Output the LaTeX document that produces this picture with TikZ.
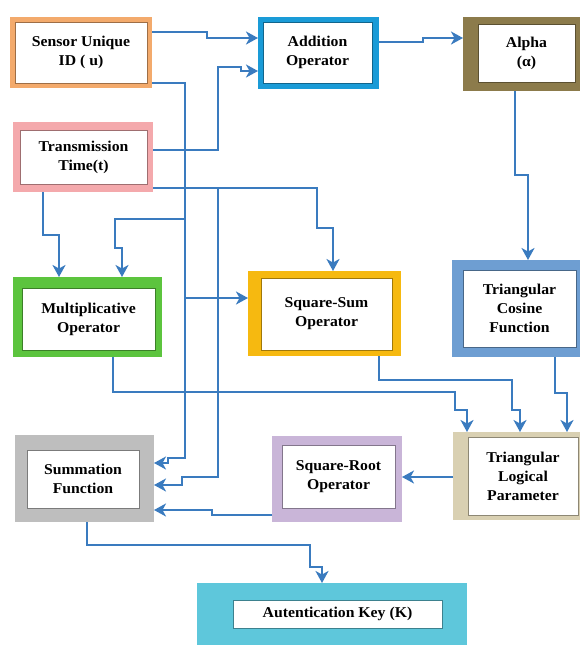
\documentclass[tikz,border=0pt]{standalone}
\usepackage{fontspec}
\setmainfont{Liberation Serif}[FakeStretch=1.05]
\usetikzlibrary{arrows.meta}

\definecolor{linkblue}{HTML}{3A7BBF}
\definecolor{csensor}{HTML}{F3AA6C}
\definecolor{cadd}{HTML}{1A9BD7}
\definecolor{calpha}{HTML}{8C7B4B}
\definecolor{ctrans}{HTML}{F4A9AC}
\definecolor{cmult}{HTML}{5CC43E}
\definecolor{cssum}{HTML}{F6B910}
\definecolor{ctcos}{HTML}{6E9ED2}
\definecolor{ctlp}{HTML}{D9D0B2}
\definecolor{csroot}{HTML}{C9B5D8}
\definecolor{csumm}{HTML}{BEBEBE}
\definecolor{ckey}{HTML}{5EC7DB}

\tikzset{
	frame/.style={fill=#1, inner sep=0pt, outer sep=0pt, anchor=north west},
	card/.style={fill=white, draw=#1!65!black, line width=0.6pt, inner sep=0pt, outer sep=0pt,
		anchor=north west, align=center, font=\bfseries\fontsize{15}{19}\selectfont},
	link/.style={draw=linkblue, line width=2.7pt},
	arr/.style={link, -{Stealth[length=12pt,width=13pt,inset=3.5pt]}}
}

\begin{document}
\begin{tikzpicture}[x=1pt,y=-1pt]
		\useasboundingbox (0,0) rectangle (580,648);
		\clip (0,0) rectangle (580,648);

		\node[frame=csensor, minimum width=142pt, minimum height=71pt] (sensor) at (10,17) {};
		\node[card=csensor, minimum width=132pt, minimum height=61pt] (sensorT) at (15,22) {Sensor Unique\\ID ( u)};
		\node[frame=cadd, minimum width=121pt, minimum height=72pt] (add) at (258,17) {};
		\node[card=cadd, minimum width=109pt, minimum height=61pt] (addT) at (263,22) {Addition\\Operator};
		\node[frame=calpha, minimum width=123pt, minimum height=74pt] (alpha) at (463,17) {};
		\node[card=calpha, minimum width=97pt, minimum height=58pt] (alphaT) at (478,24) {Alpha\\(α)};
		\node[frame=ctrans, minimum width=140pt, minimum height=70pt] (trans) at (13,122) {};
		\node[card=ctrans, minimum width=127pt, minimum height=54pt] (transT) at (20,130) {Transmission\\Time(t)};

		\node[frame=cmult, minimum width=149pt, minimum height=80pt] (mult) at (13,277) {};
		\node[card=cmult, minimum width=133pt, minimum height=62pt] (multT) at (22,288) {Multiplicative\\Operator};
		\node[frame=cssum, minimum width=153pt, minimum height=85pt] (ssum) at (248,271) {};
		\node[card=cssum, minimum width=131pt, minimum height=72pt] (ssumT) at (261,278) {Square-Sum\\Operator};
		\node[frame=ctcos, minimum width=132pt, minimum height=97pt] (tcos) at (452,260) {};
		\node[card=ctcos, minimum width=113pt, minimum height=77pt] (tcosT) at (463,270) {Triangular\\Cosine\\Function};

		\node[frame=csumm, minimum width=139pt, minimum height=87pt] (summ) at (15,435) {};
		\node[card=csumm, minimum width=112pt, minimum height=58pt] (summT) at (27,450) {Summation\\Function};
		\node[frame=csroot, minimum width=130pt, minimum height=86pt] (sroot) at (272,436) {};
		\node[card=csroot, minimum width=113pt, minimum height=63pt] (srootT) at (282,445) {Square-Root\\Operator};
		\node[frame=ctlp, minimum width=132pt, minimum height=88pt] (tlp) at (453,432) {};
		\node[card=ctlp, minimum width=110pt, minimum height=78pt] (tlpT) at (468,437) {Triangular\\Logical\\Parameter};

		\node[frame=ckey, minimum width=270pt, minimum height=62pt] (key) at (197,583) {};
		\node[card=ckey, minimum width=209pt, minimum height=28pt] (keyT) at (233,600) {Autentication Key (K)};

		\draw[arr] (sensor.east |- 0,32) -- (207,32) -- (207,38) -- (add.west |- 0,38);
		\draw[arr] (trans.east |- 0,150) -- (218,150) -- (218,67) -- (241,67) -- (241,71) -- (add.west |- 0,71);
		\draw[arr] (add.east |- 0,42) -- (423,42) -- (423,38) -- (alpha.west |- 0,38);
		\draw[arr] (alpha.south -| 515,0) -- (515,175) -- (528,175) -- (tcos.north -| 528,0);

		\draw[arr] (sensor.east |- 0,83) -- (185,83) -- (185,458) -- (168,458) -- (168,463) -- (summ.east |- 0,463);
		\draw[arr] (185,219) -- (115,219) -- (115,248) -- (122,248) -- (mult.north -| 122,0);
		\draw[arr] (185,298) -- (ssum.west |- 0,298);
		\draw[arr] (trans.east |- 0,188) -- (317,188) -- (317,228) -- (333,228) -- (ssum.north -| 333,0);
		\draw[arr] (218,188) -- (218,477) -- (182,477) -- (182,485) -- (summ.east |- 0,485);
		\draw[arr] (trans.south -| 43,0) -- (43,235) -- (59,235) -- (mult.north -| 59,0);

		\draw[arr] (mult.south -| 113,0) -- (113,392) -- (455,392) -- (455,410) -- (467,410) -- (tlp.north -| 467,0);
		\draw[arr] (ssum.south -| 379,0) -- (379,380) -- (512,380) -- (512,410) -- (520,410) -- (tlp.north -| 520,0);
		\draw[arr] (tcos.south -| 555,0) -- (555,393) -- (567,393) -- (tlp.north -| 567,0);

		\draw[arr] (tlp.west |- 0,477) -- (sroot.east |- 0,477);
		\draw[arr] (sroot.west |- 0,515) -- (212,515) -- (212,510) -- (summ.east |- 0,510);
		\draw[arr] (summ.south -| 87,0) -- (87,545) -- (310,545) -- (310,567) -- (322,567) -- (key.north -| 322,0);
	\end{tikzpicture}
\end{document}
